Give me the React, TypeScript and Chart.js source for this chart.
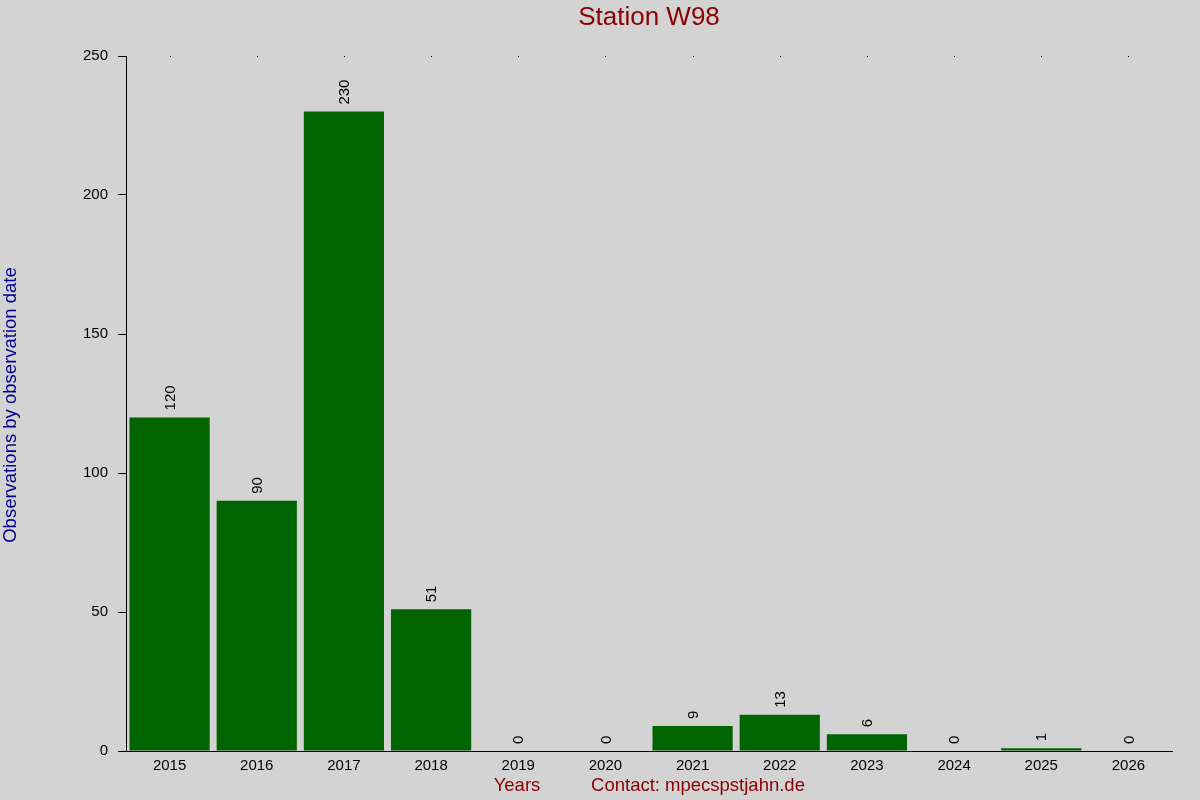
import React, { useEffect, useRef } from "react";
import { Chart, registerables } from "chart.js";

Chart.register(...registerables);

const categories = ["2015", "2016", "2017", "2018", "2019", "2020", "2021", "2022", "2023", "2024", "2025", "2026"];
const observations = [120, 90, 230, 51, 0, 0, 9, 13, 6, 0, 1, 0];
const yTicks = [0, 50, 100, 150, 200, 250];
const titleText = "Station W98";
const yTitle = "Observations by observation date";
const xTitle = "Years";
const contactText = "Contact: mpecspstjahn.de";

const FONT = "'Liberation Sans', Arial, sans-serif";

const decorPlugin = {
  id: "decor",
  beforeDraw(chart: any) {
    const { ctx, width, height } = chart;
    ctx.save();
    ctx.fillStyle = "#d3d3d3";
    ctx.fillRect(0, 0, width, height);
    ctx.restore();
  },
  afterDraw(chart: any) {
    const { ctx, chartArea } = chart;
    const xs = chart.scales.x;
    const meta = chart.getDatasetMeta(0);
    ctx.save();
    // top dots
    ctx.fillStyle = "#000";
    categories.forEach((_, i) => {
      const x = xs.getPixelForValue(i);
      ctx.fillRect(Math.round(x), chartArea.top, 1, 1);
    });
    // value labels
    ctx.font = `15px ${FONT}`;
    ctx.fillStyle = "#000";
    ctx.textAlign = "left";
    ctx.textBaseline = "middle";
    meta.data.forEach((bar: any, i: number) => {
      ctx.save();
      ctx.translate(bar.x + 1, bar.y - 7);
      ctx.rotate(-Math.PI / 2);
      ctx.fillText(String(observations[i]), 0, 0);
      ctx.restore();
    });
    // title
    ctx.fillStyle = "#8b0000";
    ctx.textAlign = "center";
    ctx.textBaseline = "middle";
    ctx.font = `26px ${FONT}`;
    ctx.fillText(titleText, 649, 18);
    // bottom texts
    ctx.font = `18.5px ${FONT}`;
    ctx.fillText(xTitle, 517, 786);
    ctx.fillText(contactText, 698, 786);
    // y title
    ctx.fillStyle = "#00008b";
    ctx.save();
    ctx.translate(11, 405);
    ctx.rotate(-Math.PI / 2);
    ctx.fillText(yTitle, 0, 0);
    ctx.restore();
    ctx.restore();
  },
};

export default function App() {
  const ref = useRef<HTMLCanvasElement>(null);
  useEffect(() => {
    document.body.style.margin = "0";
    const chart = new Chart(ref.current!, {
      type: "bar",
      data: {
        labels: categories,
        datasets: [
          {
            data: observations,
            backgroundColor: "#006400",
            borderWidth: 0,
            barPercentage: 0.92,
            categoryPercentage: 1,
          },
        ],
      },
      options: {
        animation: false,
        responsive: false,
        devicePixelRatio: 1,
        layout: { padding: { left: 0, right: 28, top: 56, bottom: 0 } },
        plugins: { legend: { display: false }, title: { display: false }, tooltip: { enabled: false } },
        scales: {
          x: {
            grid: { display: false, drawTicks: false },
            border: { display: true, color: "#000", width: 1 },
            ticks: { color: "#000", font: { size: 15, family: FONT }, padding: 6, maxRotation: 0 },
            afterFit(scale: any) {
              scale.height = 49;
            },
          },
          y: {
            min: 0,
            max: 250,
            afterBuildTicks(scale: any) {
              scale.ticks = yTicks.map((v) => ({ value: v }));
            },
            grid: { drawOnChartArea: false, drawTicks: true, tickLength: 8, color: "#000" },
            border: { display: true, color: "#000", width: 1 },
            ticks: { color: "#000", font: { size: 15, family: FONT }, padding: 10 },
            afterFit(scale: any) {
              scale.width = 126;
            },
          },
        },
      },
      plugins: [decorPlugin],
    });
    return () => chart.destroy();
  }, []);
  return (
    <div style={{ position: "absolute", left: 0, top: 0, width: 1200, height: 800 }}>
      <canvas ref={ref} width={1200} height={800} style={{ width: 1200, height: 800, display: "block" }} />
    </div>
  );
}
